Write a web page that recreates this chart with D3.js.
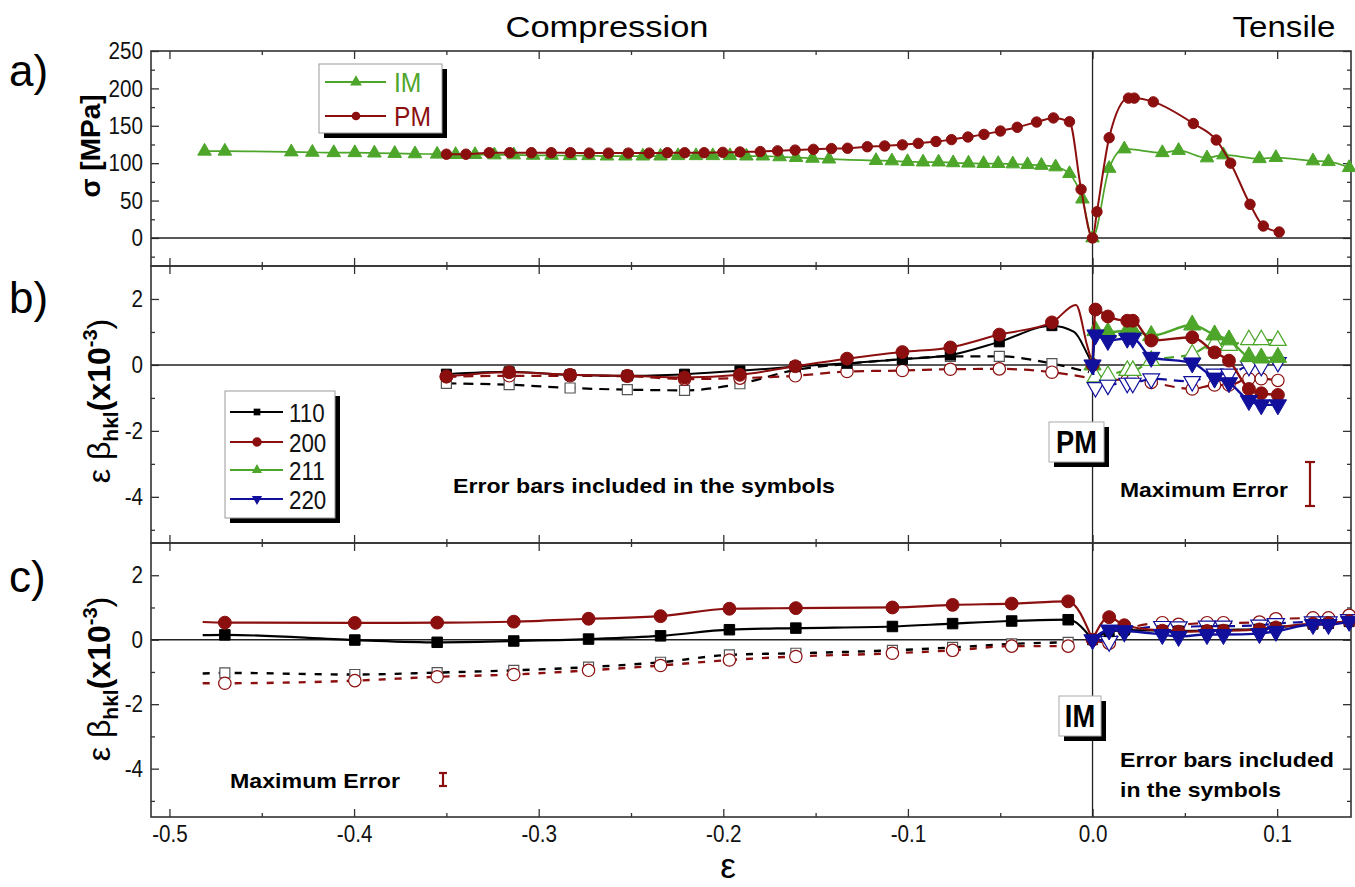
<!DOCTYPE html>
<html>
<head>
<meta charset="utf-8">
<script src="https://cdn.jsdelivr.net/npm/d3@7"></script>
<style>
  body { margin: 0; background: #fff; }
  svg text { font-family: "Liberation Sans Narrow", "Arial Narrow", "Liberation Sans", Arial, sans-serif; }
</style>
</head>
<body>
<svg id="chart" width="1355" height="887"></svg>
<script>
// ---------------- axis ticks ----------------
const xMajorTicks = [-0.5, -0.4, -0.3, -0.2, -0.1, 0.0, 0.1];
const xTickLabels = ["-0.5", "-0.4", "-0.3", "-0.2", "-0.1", "0.0", "0.1"];
const xMinorTicks = [-0.45, -0.35, -0.25, -0.15, -0.05, 0.05];
const aMajorTicks = [0, 50, 100, 150, 200, 250];
const aMinorTicks = [-25, 25, 75, 125, 175, 225];
const bcMajorTicks = [-4, -2, 0, 2];
const bcMinorTicks = [-5, -3, -1, 1];

// ---------------- panel a: macroscopic stress ----------------
const strainIM = [-0.481, -0.470, -0.434, -0.4226, -0.411, -0.3996, -0.389, -0.378, -0.367, -0.355,
  -0.345, -0.3345, -0.324, -0.3135, -0.303, -0.293, -0.283, -0.273, -0.263, -0.253,
  -0.2436, -0.234, -0.2245, -0.2148, -0.2057, -0.1964, -0.1875, -0.1786, -0.1695, -0.1606,
  -0.1517, -0.1428, -0.1173, -0.1087, -0.1002, -0.0918, -0.0834, -0.0755, -0.0672, -0.0590,
  -0.0511, -0.0432, -0.0352, -0.0277, -0.0200, -0.0125, -0.0055, 0.0,
  0.009, 0.0172, 0.0378, 0.0466, 0.062, 0.0709, 0.0904, 0.0993, 0.1194, 0.1278, 0.139];
const stressIM = [116, 116, 115, 114.5, 114, 114, 113.5, 113, 112.5, 112,
  111.5, 111.5, 111, 111, 110.5, 110.5, 110, 110, 109.5, 109.5,
  109.5, 109.5, 110, 110, 110, 110, 109.5, 109.5, 108.5, 107.5,
  106.5, 105.5, 103.5, 103, 102, 101.5, 101.5, 100.5, 100, 99.5,
  99.5, 99, 98, 97, 95, 86, 52, 0,
  93, 119, 114, 117, 107, 111, 106, 107.5, 103, 102, 94];

const strainPM = [-0.350, -0.3394, -0.3268, -0.3157, -0.304, -0.2932, -0.2828, -0.2726, -0.2622, -0.2514,
  -0.2402, -0.2303, -0.2209, -0.2104, -0.2003, -0.191, -0.180, -0.1706, -0.1611, -0.1512,
  -0.1414, -0.1327, -0.122, -0.1126, -0.103, -0.0944, -0.0848, -0.0764, -0.0675, -0.0588,
  -0.0499, -0.0408, -0.0303, -0.0212, -0.0125, -0.0062, 0.0,
  0.0024, 0.009, 0.0195, 0.0226, 0.0329, 0.0546, 0.067, 0.0748, 0.0853, 0.0925, 0.1011];
const stressPM = [112, 112, 114, 114, 114, 114, 114, 113.5, 113.5, 113.5,
  113.5, 114, 114, 114, 114.5, 115, 115.5, 116.5, 117.5, 118.5,
  119.5, 120, 122, 123, 124.5, 126.5, 129, 131.5, 135, 138.5,
  143, 148, 155, 160.5, 155.5, 65, 0,
  35, 134, 187, 187, 182, 153, 131, 100, 45, 16, 8];

// ---------------- panel b: PM lattice strains ----------------
const bCompStrain = [-0.350, -0.316, -0.283, -0.252, -0.221, -0.191, -0.161, -0.133, -0.103, -0.077, -0.0505, -0.022];
const bComp110 = [-0.28, -0.21, -0.30, -0.33, -0.28, -0.18, -0.05, 0.05, 0.17, 0.30, 0.70, 1.19];
const bComp200 = [-0.35, -0.22, -0.30, -0.33, -0.38, -0.30, -0.04, 0.19, 0.39, 0.53, 0.92, 1.29];
const bComp110Open = [-0.56, -0.60, -0.70, -0.75, -0.77, -0.57, -0.15, 0.03, 0.18, 0.26, 0.26, 0.04];
const bComp200Open = [-0.36, -0.33, -0.33, -0.34, -0.43, -0.40, -0.33, -0.20, -0.17, -0.13, -0.12, -0.22];
// unmarked points of the traces running into the origin
const bTail110Strain = [-0.010, -0.003, 0.0];
const bTail110 = [1.00, 0.35, 0.0];
const bTail200Strain = [-0.009, -0.003, 0.0];
const bTail200 = [1.82, 0.60, 0.0];
const bTail110OpenStrain = [-0.002];
const bTail110Open = [-0.22];
const bTail200OpenStrain = [-0.003];
const bTail200Open = [-0.38];

const bTensStrain = [0.0, 0.0016, 0.0083, 0.0188, 0.0218, 0.0318, 0.054, 0.0661, 0.0739, 0.0847, 0.0914, 0.1004];
const bTens200 = [0, 1.68, 1.47, 1.34, 1.34, 0.74, 0.84, 0.38, 0.13, -0.73, -0.86, -0.91];
const bTens211 = [0, 1.04, 0.99, 1.04, 1.04, 0.89, 1.21, 0.91, 0.76, 0.25, 0.21, 0.23];
const bTens220 = [0, 0.91, 0.74, 0.81, 0.81, 0.23, 0.06, -0.40, -0.54, -1.08, -1.21, -1.21];
const bTens200Open = [0, -0.45, -0.45, -0.45, -0.45, -0.53, -0.73, -0.61, -0.61, -0.42, -0.42, -0.47];
const bTens211Open = [0, -0.37, -0.32, -0.17, -0.17, 0.13, 0.33, 0.64, 0.59, 0.76, 0.76, 0.74];
const bTens220Open = [0, -0.68, -0.61, -0.55, -0.55, -0.42, -0.50, -0.27, -0.27, -0.04, -0.04, 0.08];

// ---------------- panel c: IM lattice strains ----------------
const cCompStrain = [-0.470, -0.3996, -0.355, -0.3135, -0.273, -0.234, -0.1967, -0.1607, -0.1084, -0.0758, -0.0438, -0.0132];
const cComp110 = [0.15, -0.01, -0.08, -0.04, 0.02, 0.12, 0.31, 0.36, 0.41, 0.50, 0.58, 0.62];
const cComp200 = [0.53, 0.52, 0.53, 0.56, 0.65, 0.73, 0.96, 0.98, 1.00, 1.08, 1.12, 1.19];
const cComp110Open = [-1.03, -1.08, -1.02, -0.95, -0.85, -0.70, -0.47, -0.42, -0.33, -0.24, -0.13, -0.08];
const cComp200Open = [-1.35, -1.27, -1.15, -1.08, -0.95, -0.80, -0.63, -0.52, -0.42, -0.33, -0.20, -0.20];
const cHeadStrain = [-0.482];
const cHead110 = [0.14];
const cHead200 = [0.55];
const cHead110Open = [-1.05];
const cHead200Open = [-1.35];
const cTailStrain = [0.0];
const cTailSolid = [0.0];

const cTensStrain = [0.0, 0.009, 0.0172, 0.0378, 0.0466, 0.062, 0.0709, 0.0904, 0.0993, 0.1194, 0.1278, 0.139];
const cTens110 = [0, 0.25, 0.30, 0.28, 0.27, 0.28, 0.30, 0.33, 0.38, 0.48, 0.50, 0.56];
const cTens200 = [0, 0.70, 0.45, 0.28, 0.25, 0.27, 0.28, 0.32, 0.38, 0.50, 0.52, 0.58];
const cTens220 = [0, 0.30, 0.28, 0.16, 0.10, 0.16, 0.16, 0.19, 0.26, 0.47, 0.47, 0.57];
const cTens200Open = [0, -0.10, 0.30, 0.52, 0.47, 0.52, 0.52, 0.54, 0.64, 0.67, 0.67, 0.75];
const cTens220Open = [0, -0.05, 0.25, 0.41, 0.40, 0.42, 0.42, 0.45, 0.50, 0.55, 0.55, 0.62];

const legendA = ["IM", "PM"];
const legendB = ["110", "200", "211", "220"];

// ---------------- styles ----------------
const RED = "#8b0f0f", GREEN = "#4da62a", BLUE = "#10109c", BLACK = "#000";
const FRAME = "#333";

const svg = d3.select("#chart");

const x = d3.scaleLinear().domain([-0.51, 0.14]).range([151, 1351]);
const yA = d3.scaleLinear().domain([-37.5, 250]).range([266, 51]);
const yB = d3.scaleLinear().domain([-5.4, 3]).range([543, 266]);
const yC = d3.scaleLinear().domain([-5.5, 3]).range([817, 543]);

const zip = (xs, ys) => xs.map((v, i) => [v, ys[i]]);

// squeeze a text horizontally to imitate a condensed face
function condense(sel, k) {
  sel.each(function () {
    const w = this.getComputedTextLength();
    if (w > 0) d3.select(this).attr("textLength", w * k).attr("lengthAdjust", "spacingAndGlyphs");
  });
}

// ---------- frames, ticks, zero lines ----------
function frame(y, major, minor, bottomLabels) {
  const [y0, y1] = y.range();
  const g = svg.append("g");
  const left = g.append("g").attr("transform", `translate(${x.range()[0]},0)`)
    .call(d3.axisLeft(y).tickValues(major).tickSize(-8).tickPadding(8).tickFormat(d => d));
  left.select(".domain").remove();
  g.append("g").attr("transform", `translate(${x.range()[0]},0)`)
    .call(d3.axisLeft(y).tickValues(minor).tickSize(-4).tickFormat(""))
    .select(".domain").remove();
  g.append("g").attr("transform", `translate(${x.range()[1]},0)`)
    .call(d3.axisRight(y).tickValues(major).tickSize(-8).tickFormat(""))
    .select(".domain").remove();
  g.append("g").attr("transform", `translate(${x.range()[1]},0)`)
    .call(d3.axisRight(y).tickValues(minor).tickSize(-4).tickFormat(""))
    .select(".domain").remove();
  g.append("g").attr("transform", `translate(0,${y1})`)
    .call(d3.axisTop(x).tickValues(xMajorTicks).tickSize(-8).tickFormat(""))
    .select(".domain").remove();
  g.append("g").attr("transform", `translate(0,${y1})`)
    .call(d3.axisTop(x).tickValues(xMinorTicks).tickSize(-4).tickFormat(""))
    .select(".domain").remove();
  const bot = g.append("g").attr("transform", `translate(0,${y0})`)
    .call(d3.axisBottom(x).tickValues(xMajorTicks).tickSize(-8).tickPadding(8)
      .tickFormat((d, i) => bottomLabels ? xTickLabels[i] : ""));
  bot.select(".domain").remove();
  g.append("g").attr("transform", `translate(0,${y0})`)
    .call(d3.axisBottom(x).tickValues(xMinorTicks).tickSize(-4).tickFormat(""))
    .select(".domain").remove();

  g.selectAll(".tick line").attr("stroke", FRAME).attr("stroke-width", 1.3);
  g.selectAll(".tick text").attr("font-size", 24).attr("fill", "#111");
  condense(g.selectAll(".tick text"), 0.86);

  g.append("line").attr("x1", x.range()[0]).attr("x2", x.range()[1])
    .attr("y1", y(0)).attr("y2", y(0)).attr("stroke", "#222").attr("stroke-width", 1.6);
  g.append("line").attr("x1", x(0)).attr("x2", x(0))
    .attr("y1", y1).attr("y2", y0).attr("stroke", "#222").attr("stroke-width", 1.3);
  g.append("rect").attr("x", x.range()[0]).attr("y", y1)
    .attr("width", x.range()[1] - x.range()[0]).attr("height", y0 - y1)
    .attr("fill", "none").attr("stroke", FRAME).attr("stroke-width", 1.6);
}
frame(yA, aMajorTicks, aMinorTicks, false);
frame(yB, bcMajorTicks, bcMinorTicks, false);
frame(yC, bcMajorTicks, bcMinorTicks, true);

// ---------- series drawing ----------
const symDown = { draw(ctx, size) { const s = Math.sqrt(size * 4 / Math.sqrt(3)); const h = s * Math.sqrt(3) / 2;
  ctx.moveTo(0, h * 2 / 3); ctx.lineTo(s / 2, -h / 3); ctx.lineTo(-s / 2, -h / 3); ctx.closePath(); } };
const symbolOf = { circle: d3.symbolCircle, square: d3.symbolSquare, up: d3.symbolTriangle, down: symDown };

function drawSeries(y, linePts, markPts, o) {
  const line = d3.line().x(d => x(d[0])).y(d => y(d[1])).curve(d3.curveMonotoneX);
  svg.append("path").attr("d", line(linePts)).attr("fill", "none")
    .attr("stroke", o.color).attr("stroke-width", o.width || 2)
    .attr("stroke-dasharray", o.dash || null).attr("stroke-linejoin", "round");
  const sym = d3.symbol().type(symbolOf[o.marker]).size(o.size || 110);
  svg.append("g").selectAll("path").data(markPts).join("path")
    .attr("transform", d => `translate(${x(d[0])},${y(d[1])})`)
    .attr("d", sym)
    .attr("fill", o.open ? "#fff" : o.color)
    .attr("stroke", o.open ? (o.openStroke || o.color) : o.color)
    .attr("stroke-width", o.open ? 1.2 : 1);
}

// panel a
drawSeries(yA, zip(strainIM, stressIM), zip(strainIM, stressIM), { color: GREEN, marker: "up", size: 80, width: 1.7 });
drawSeries(yA, zip(strainPM, stressPM), zip(strainPM, stressPM), { color: RED, marker: "circle", size: 85, width: 2 });

// panel b - open (dashed) traces
const dashB = "10,7";
drawSeries(yB, zip(bCompStrain, bComp110Open).concat(zip(bTail110OpenStrain, bTail110Open)), zip(bCompStrain, bComp110Open),
  { color: BLACK, marker: "square", open: true, openStroke: "#555", dash: dashB, width: 2.2, size: 100 });
drawSeries(yB, zip(bCompStrain, bComp200Open).concat(zip(bTail200OpenStrain, bTail200Open)), zip(bCompStrain, bComp200Open),
  { color: RED, marker: "circle", open: true, dash: dashB, width: 2.2, size: 120 });
drawSeries(yB, zip(bTensStrain, bTens200Open), zip(bTensStrain.slice(1), bTens200Open.slice(1)),
  { color: RED, marker: "circle", open: true, dash: dashB, width: 2.2, size: 120 });
drawSeries(yB, zip(bTensStrain, bTens211Open), zip(bTensStrain.slice(1), bTens211Open.slice(1)),
  { color: GREEN, marker: "up", open: true, dash: dashB, width: 2.2, size: 120 });
drawSeries(yB, zip(bTensStrain, bTens220Open), zip(bTensStrain.slice(1), bTens220Open.slice(1)),
  { color: BLUE, marker: "down", open: true, dash: dashB, width: 2.2, size: 120 });
// panel b - filled (solid) traces
drawSeries(yB, zip(bCompStrain, bComp110).concat(zip(bTail110Strain, bTail110)), zip(bCompStrain, bComp110),
  { color: BLACK, marker: "square", width: 2, size: 100 });
drawSeries(yB, zip(bCompStrain, bComp200).concat(zip(bTail200Strain, bTail200)), zip(bCompStrain, bComp200),
  { color: RED, marker: "circle", width: 2, size: 130 });
drawSeries(yB, zip(bTensStrain, bTens211), zip(bTensStrain, bTens211), { color: GREEN, marker: "up", width: 2.4, size: 130 });
drawSeries(yB, zip(bTensStrain, bTens200), zip(bTensStrain, bTens200), { color: RED, marker: "circle", width: 2.4, size: 130 });
drawSeries(yB, zip(bTensStrain, bTens220), zip(bTensStrain, bTens220), { color: BLUE, marker: "down", width: 2.4, size: 130 });

// panel c - open (dashed) traces
const dashC = "7,9";
drawSeries(yC, zip(cHeadStrain, cHead110Open).concat(zip(cCompStrain, cComp110Open)), zip(cCompStrain, cComp110Open),
  { color: BLACK, marker: "square", open: true, openStroke: "#555", dash: dashC, width: 2.4, size: 100 });
drawSeries(yC, zip(cHeadStrain, cHead200Open).concat(zip(cCompStrain, cComp200Open)), zip(cCompStrain, cComp200Open),
  { color: RED, marker: "circle", open: true, dash: dashC, width: 2.4, size: 120 });
drawSeries(yC, zip(cTensStrain, cTens200Open), zip(cTensStrain.slice(1), cTens200Open.slice(1)),
  { color: RED, marker: "circle", open: true, dash: dashB, width: 2.2, size: 130 });
drawSeries(yC, zip(cTensStrain, cTens220Open), zip(cTensStrain.slice(1), cTens220Open.slice(1)),
  { color: BLUE, marker: "down", open: true, dash: dashB, width: 2.2, size: 130 });
// panel c - filled (solid) traces
drawSeries(yC, zip(cHeadStrain, cHead110).concat(zip(cCompStrain, cComp110), zip(cTailStrain, cTailSolid)), zip(cCompStrain, cComp110),
  { color: BLACK, marker: "square", width: 2.2, size: 110 });
drawSeries(yC, zip(cHeadStrain, cHead200).concat(zip(cCompStrain, cComp200), zip(cTailStrain, cTailSolid)), zip(cCompStrain, cComp200),
  { color: RED, marker: "circle", width: 2.2, size: 130 });
drawSeries(yC, zip(cTensStrain, cTens110), zip(cTensStrain, cTens110), { color: BLACK, marker: "square", width: 2.2, size: 100 });
drawSeries(yC, zip(cTensStrain, cTens200), zip(cTensStrain, cTens200), { color: RED, marker: "circle", width: 2.2, size: 130 });
drawSeries(yC, zip(cTensStrain, cTens220), zip(cTensStrain, cTens220), { color: BLUE, marker: "down", width: 2.4, size: 130 });

// ---------- legends ----------
function legendBox(x0, y0, w, h) {
  svg.append("rect").attr("x", x0 + 5).attr("y", y0 + 5).attr("width", w).attr("height", h).attr("fill", "#000");
  svg.append("rect").attr("x", x0).attr("y", y0).attr("width", w).attr("height", h)
    .attr("fill", "#fff").attr("stroke", "#999").attr("stroke-width", 1);
}
legendBox(319, 64, 123, 69);
const legAColors = [GREEN, RED], legAMarks = ["up", "circle"], legAY = [82, 116];
legendA.forEach((name, i) => {
  svg.append("line").attr("x1", 325).attr("x2", 386).attr("y1", legAY[i]).attr("y2", legAY[i])
    .attr("stroke", legAColors[i]).attr("stroke-width", 1.8);
  svg.append("path").attr("transform", `translate(356,${legAY[i]})`)
    .attr("d", d3.symbol().type(symbolOf[legAMarks[i]]).size(60)).attr("fill", legAColors[i]);
  const t = svg.append("text").attr("x", 394).attr("y", legAY[i] + 9.5).attr("font-size", 28)
    .attr("fill", legAColors[i]).text(name);
  condense(t, 0.88);
});

legendBox(225, 391, 110, 127);
const legBColors = [BLACK, RED, GREEN, BLUE], legBMarks = ["square", "circle", "up", "down"], legBY = [412, 442, 470, 499];
legendB.forEach((name, i) => {
  svg.append("line").attr("x1", 230).attr("x2", 283).attr("y1", legBY[i]).attr("y2", legBY[i])
    .attr("stroke", legBColors[i]).attr("stroke-width", 2);
  svg.append("path").attr("transform", `translate(257,${legBY[i]})`)
    .attr("d", d3.symbol().type(symbolOf[legBMarks[i]]).size(i === 1 ? 70 : 45)).attr("fill", legBColors[i]);
  const t = svg.append("text").attr("x", 289).attr("y", legBY[i] + 9.5).attr("font-size", 26)
    .attr("fill", "#111").text(name);
  condense(t, 0.86);
});

// ---------- annotations ----------
function tag(label, x0, y0, w, h, fs) {
  svg.append("rect").attr("x", x0 + 5).attr("y", y0 + 5).attr("width", w).attr("height", h).attr("fill", "#000");
  svg.append("rect").attr("x", x0).attr("y", y0).attr("width", w).attr("height", h)
    .attr("fill", "#fff").attr("stroke", "#aaa").attr("stroke-width", 1);
  const t = svg.append("text").attr("x", x0 + w / 2).attr("y", y0 + h / 2 + fs * 0.36).attr("text-anchor", "middle")
    .attr("font-size", fs).attr("font-weight", "bold").text(label);
  condense(t, 0.88);
}
tag("PM", 1049, 422, 55, 40, 31);
tag("IM", 1059, 696, 42, 40, 31);

function note(txt, x0, y0, fs, len) {
  svg.append("text").attr("x", x0).attr("y", y0).attr("font-size", fs).attr("font-weight", "bold")
    .attr("textLength", len).attr("lengthAdjust", "spacingAndGlyphs").text(txt);
}
note("Error bars included in the symbols", 453, 493, 21, 382);
note("Maximum Error", 1120, 497, 21, 168);
note("Maximum Error", 230, 788, 21, 170);
note("Error bars included", 1120, 767, 21, 214);
note("in the symbols", 1120, 797, 21, 161);

function errorBar(cx, yTop, yBot, cap) {
  const g = svg.append("g").attr("stroke", RED).attr("stroke-width", 2.2);
  g.append("line").attr("x1", cx).attr("x2", cx).attr("y1", yTop).attr("y2", yBot);
  g.append("line").attr("x1", cx - cap).attr("x2", cx + cap).attr("y1", yTop).attr("y2", yTop);
  g.append("line").attr("x1", cx - cap).attr("x2", cx + cap).attr("y1", yBot).attr("y2", yBot);
}
errorBar(1310, 462, 506, 5);
errorBar(443, 773, 786, 4);

// ---------- titles & axis labels ----------
svg.append("text").attr("x", 607).attr("y", 37).attr("text-anchor", "middle").attr("font-size", 30)
  .attr("textLength", 203).attr("lengthAdjust", "spacingAndGlyphs").text("Compression");
svg.append("text").attr("x", 1284).attr("y", 37).attr("text-anchor", "middle").attr("font-size", 30)
  .attr("textLength", 103).attr("lengthAdjust", "spacingAndGlyphs").text("Tensile");

[["a)", 86], ["b)", 313], ["c)", 592]].forEach(([t, yy]) => {
  svg.append("text").attr("x", 9).attr("y", yy).attr("font-size", 44).text(t);
});

svg.append("text").attr("transform", "translate(100,146) rotate(-90)").attr("text-anchor", "middle")
  .attr("font-size", 28).attr("font-weight", "bold").text("σ [MPa]");

function strainLabel(cx, cy) {
  const t = svg.append("text").attr("transform", `translate(${cx},${cy}) rotate(-90)`)
    .attr("text-anchor", "middle").attr("font-size", 32);
  t.append("tspan").text("ε β");
  t.append("tspan").attr("font-size", 21).attr("font-weight", "bold").attr("dy", 8).text("hkl");
  t.append("tspan").attr("font-weight", "bold").attr("dy", -8).text("(x10");
  t.append("tspan").attr("font-size", 20).attr("font-weight", "bold").attr("dy", -13).text("-3");
  t.append("tspan").attr("dy", 13).text(")");
}
strainLabel(110, 401);
strainLabel(110, 679);

svg.append("text").attr("x", 728).attr("y", 878).attr("text-anchor", "middle").attr("font-size", 35).text("ε");
</script>
</body>
</html>
